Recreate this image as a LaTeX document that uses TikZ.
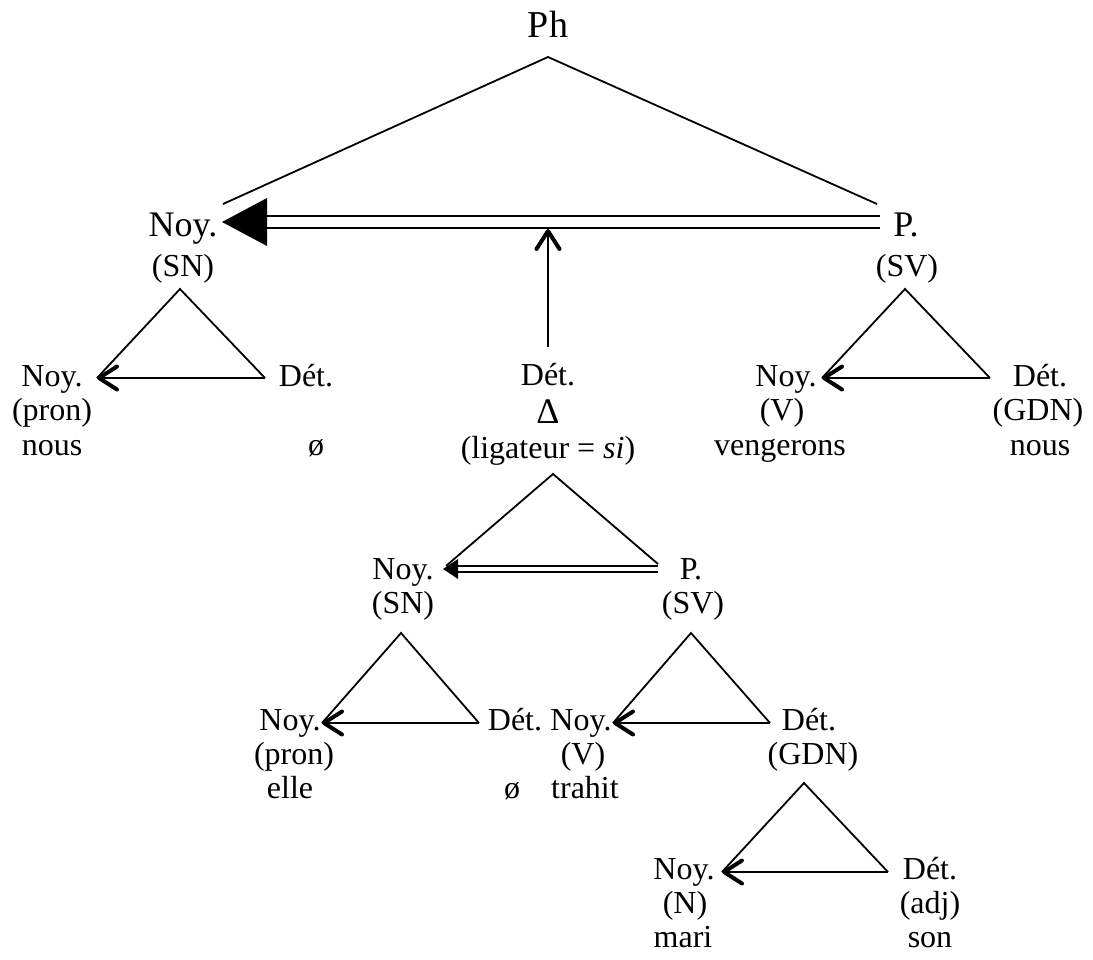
\documentclass[tikz,border=0pt]{standalone}
\usepackage{fontspec}
\setmainfont{Liberation Serif}
\usetikzlibrary{arrows.meta}
\newcommand\smsz{\fontsize{32}{36}\selectfont}
\newcommand\lgsz{\fontsize{36}{40}\selectfont}
\newcommand\phsz{\fontsize{38}{42}\selectfont}
\begin{document}
\begin{tikzpicture}[x=1pt,y=-1pt,
  lab/.style={anchor=base,inner sep=0pt,font=\smsz},
  lablg/.style={anchor=base,inner sep=0pt,font=\lgsz},
  edge/.style={line width=1.8pt,line join=miter},
  headarrow/.style={line width=1.8pt,-{Straight Barb[length=18pt,width=23pt,line width=4pt,round]}},
  dblline/.style={line width=2pt,double,double distance=#1},
]
\useasboundingbox (0,0) rectangle (1093,960);

% ---------- sentence level ----------
\node[lablg,font=\phsz] (ph) at (548,38) {Ph};
\node[lablg] (noyA) at (183,237) {Noy.};
\node[lab]   (snA)  at (183,277) {(SN)};
\node[lablg] (pA)   at (906,237) {P.};
\node[lab]   (svA)  at (907,277) {(SV)};

\coordinate (phApex) at (548,57);
\coordinate (phL) at (223,204);
\coordinate (phR) at (877,204);
\draw[edge] (phL) -- (phApex) -- (phR);

% predicate -> subject link (double line, filled head)
\coordinate (dblAr) at (880,222);
\coordinate (dblAl) at (265,222);
\coordinate (tipA)  at (222,222);
\draw[dblline=10pt] (dblAr) -- (dblAl);
\fill (tipA) -- ++(45,-24) -- ++(0,48) -- cycle;

% determiner pointing at the link
\coordinate (vTop) at (548,229);
\coordinate (vBot) at (548,347);
\draw[headarrow] (vBot) -- (vTop);

% ---------- second row ----------
\node[lab] (noyB)  at (52,386)  {Noy.};
\node[lab] (pronB) at (52,420)  {(pron)};
\node[lab] (nousB) at (52,455)  {nous};
\node[lab] (detB)  at (306,386) {Dét.};
\node[lab] (zeroB) at (316,455) {ø};

\node[lab]   (detM)   at (548,385) {Dét.};
\node[lablg] (deltaM) at (548,423) {Δ};
\node[lab]   (ligM)   at (548,458) {(ligateur = \textit{si})};

\node[lab] (noyBR)  at (786,386)  {Noy.};
\node[lab] (vBR)    at (782,420)  {(V)};
\node[lab] (vengB)  at (780,455)  {vengerons};
\node[lab] (detBR)  at (1040,386) {Dét.};
\node[lab] (gdnBR)  at (1038,420) {(GDN)};
\node[lab] (nousBR) at (1040,455) {nous};

% subject group
\coordinate (l1A) at (180,289);
\coordinate (l1T) at (97,378);
\coordinate (l1R) at (265,378);
\draw[edge] (l1R) -- (l1A) -- (l1T);
\draw[headarrow] (l1R) -- (l1T);

% verb group
\coordinate (r1A) at (905,289);
\coordinate (r1T) at (822,378);
\coordinate (r1R) at (990,378);
\draw[edge] (r1R) -- (r1A) -- (r1T);
\draw[headarrow] (r1R) -- (r1T);

% ---------- embedded clause ----------
\node[lab] (noyM) at (403,579) {Noy.};
\node[lab] (snM)  at (403,613) {(SN)};
\node[lab] (pM)   at (691,579) {P.};
\node[lab] (svM)  at (693,613) {(SV)};

\coordinate (mA)  at (553,474);
\coordinate (mL)  at (446,566);
\coordinate (mR)  at (658,564);
\draw[edge] (mL) -- (mA) -- (mR);
\coordinate (dblMr) at (658,569);
\coordinate (dblMl) at (456,569);
\coordinate (tipM)  at (443,569);
\draw[line width=1.8pt,double,double distance=4.2pt] (dblMr) -- (dblMl);
\fill (tipM) -- ++(15,-10) -- ++(0,20) -- cycle;

% ---------- third row ----------
\node[lab] (noyC)  at (290,730) {Noy.};
\node[lab] (pronC) at (294,764) {(pron)};
\node[lab] (elleC) at (290,798) {elle};
\node[lab] (detC)  at (515,730) {Dét.};
\node[lab] (zeroC) at (512,798) {ø};

\coordinate (l2A) at (401,633);
\coordinate (l2T) at (322,723);
\coordinate (l2R) at (479,723);
\draw[edge] (l2R) -- (l2A) -- (l2T);
\draw[headarrow] (l2R) -- (l2T);

\node[lab] (noyCR)   at (581,730) {Noy.};
\node[lab] (vC)      at (583,764) {(V)};
\node[lab] (trahitC) at (585,798) {trahit};
\node[lab] (detCR)   at (809,730) {Dét.};
\node[lab] (gdnC)    at (813,764) {(GDN)};

\coordinate (r2A) at (691,633);
\coordinate (r2T) at (613,723);
\coordinate (r2R) at (770,723);
\draw[edge] (r2R) -- (r2A) -- (r2T);
\draw[headarrow] (r2R) -- (r2T);

% ---------- possessive group ----------
\node[lab] (noyD)  at (684,879) {Noy.};
\node[lab] (nD)    at (685,913) {(N)};
\node[lab] (mariD) at (683,947) {mari};
\node[lab] (detD)  at (930,879) {Dét.};
\node[lab] (adjD)  at (930,913) {(adj)};
\node[lab] (sonD)  at (930,947) {son};

\coordinate (dA) at (804,783);
\coordinate (dT) at (722,872);
\coordinate (dR) at (888,872);
\draw[edge] (dR) -- (dA) -- (dT);
\draw[headarrow] (dR) -- (dT);
\end{tikzpicture}
\end{document}
